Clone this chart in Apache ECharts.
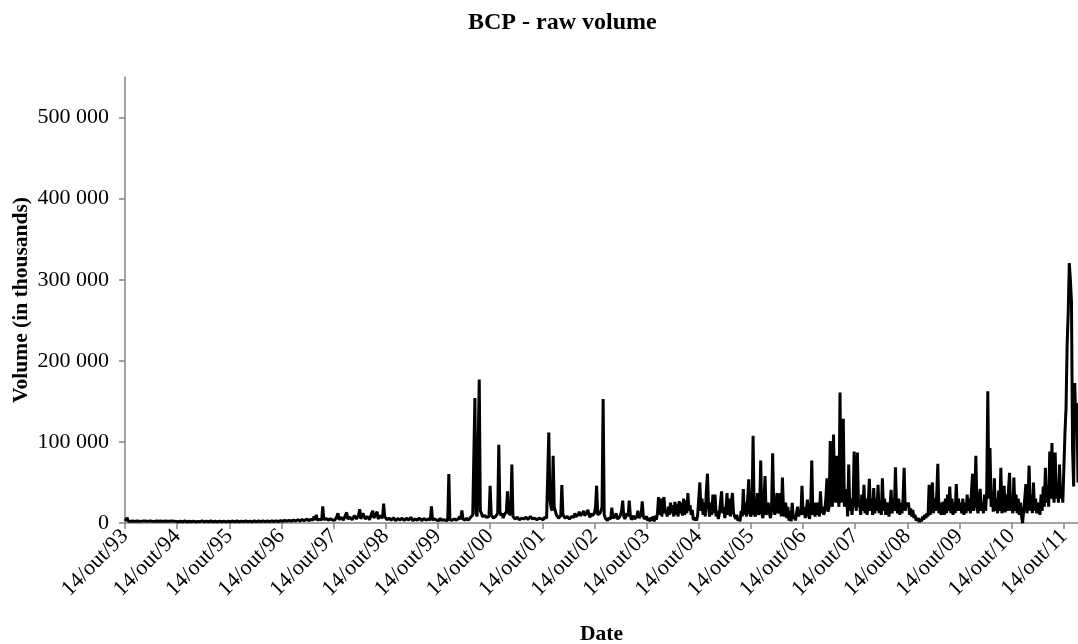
<!DOCTYPE html>
<html>
<head>
<meta charset="utf-8">
<script src="https://cdn.jsdelivr.net/npm/echarts@6/dist/echarts.min.js"></script>
<style>
  html, body { margin: 0; padding: 0; background: #fff; }
  #chart-container { width: 1078px; height: 644px; }
</style>
</head>
<body>
<div id="chart-container"></div>
<script>
// year labels for the ticks (14/out/YY), 48 samples per year
var years = ['93', '94', '95', '96', '97', '98', '99', '00', '01', '02',
             '03', '04', '05', '06', '07', '08', '09', '10', '11'];
var perYear = 48;

// volume in thousands (about weekly, alternating high/low of the band)
var vol93 = [2500,1800,6500,2000,1500,2200,1200,2500,1500,2000,1300,2400,1500,2200,1200,2000,1300,2600,1500,2400,1200,2000,1400,2600,1500,2200,1300,2000,1500,2500,1400,2100,1300,2400,1500,2000,1200,2500,1600,2200,1400,2100,1500,2600,1300,2300,1400,2000];
var vol94 = [2300,1500,1300,2200,2000,1400,1500,2700,2700,1300,1200,2100,2100,1500,1400,2400,2400,1300,1300,2000,2000,1600,1500,2600,3200,1500,1400,2300,2200,1300,1300,2500,2500,1400,1500,2200,2100,1300,1200,2400,2400,1500,1400,2300,2600,1400,1500,2200];
var vol95 = [2600,1600,1500,2400,2200,1500,1400,2500,2500,1500,1600,2300,4200,1700,1800,2500,2400,1600,1500,2300,2200,1500,1400,2500,2600,1600,1500,2500,2300,1600,1700,2600,2800,1700,1600,2500,2400,1700,1800,2700,2900,1800,1700,2600,2600,1800,1900,2800];
var vol96 = [3000,2200,2000,3100,3400,2300,2200,3300,3200,2400,2400,3600,3800,2500,2500,4000,4500,2600,2600,4200,4000,2800,2800,4800,5200,3000,3000,4500,4600,3500,8000,3500,10000,3500,3500,4500,5000,3800,20500,4000,4000,5500,6000,3600,3500,5000,5500,3800];
var vol97 = [6000,3500,3000,8000,12000,4000,4000,7000,9000,3500,3500,10000,13000,5000,5000,7000,8000,4000,4000,9000,11000,5000,6000,10000,17000,5000,4500,12000,14000,5000,5000,8000,9000,4000,4000,12000,15000,6000,6000,11000,14000,5000,5000,9000,11000,6000,23800,8000];
var vol98 = [9000,4000,3000,6000,7000,3500,3500,6500,8000,3000,3000,5500,6000,3500,4000,6000,7500,3000,3000,6000,6500,3500,3500,7000,8000,3000,3000,5000,5500,3500,4000,6000,7000,3000,3000,5500,6000,3500,3500,5000,5000,4000,20500,4000,4000,5000,5500,3500];
var vol99 = [4000,3000,6000,3500,3000,4000,5000,3500,4000,3000,60400,4000,5000,3500,3500,5000,6000,3500,4000,5500,8000,4500,15500,5000,4500,3500,6000,4000,3500,5000,7000,5000,10000,9000,154000,12000,8000,10000,177000,15000,12000,8000,6000,9000,9000,7000,5000,8000];
var vol00 = [46000,10000,8000,6000,5000,8000,7000,12000,96500,15000,9000,12000,6000,10000,12000,14000,39000,12000,14000,10000,72000,8000,6000,5000,5000,7000,7000,4000,4000,6000,6000,5000,5000,7000,8000,4500,4500,8000,9000,5000,5000,6000,7000,4000,4000,6000,6000,5000];
var vol01 = [5000,4000,7000,5000,6000,8000,111700,30000,20000,15000,83000,20000,15000,10000,8000,6000,6000,9000,46800,10000,9000,6000,6000,8000,8000,5000,5000,8000,9000,7000,12000,8000,6000,10000,14000,9000,8000,12000,15000,9000,10000,13000,16400,10000,7000,12000,9000,8000];
var vol02 = [12000,20000,46000,10000,8000,12000,15000,20000,152900,10000,6000,4000,3000,6000,8000,5000,19000,6000,4000,8000,12000,5000,3000,7000,10000,15000,27500,8000,5000,4000,12000,8000,27500,10000,4000,6000,9000,5000,3000,8000,15000,6000,6000,10000,26600,8000,5000,3000];
var vol03 = [8000,3000,6000,2000,7000,3000,8000,2000,9000,4000,12000,32000,10000,30000,8000,25000,32000,12000,15000,8000,20000,10000,25000,12000,22000,8000,26000,10000,24000,8000,27000,12000,25000,9000,30000,10000,28000,12000,37000,15000,22000,10000,16000,4000,2000,6000,3000,10000];
var vol04 = [12000,50000,15000,30000,10000,25000,8000,40000,60800,20000,8000,25000,10000,35000,12000,35000,8000,15000,5000,12000,10000,39000,12000,20000,6000,15000,37000,10000,30000,8000,25000,37000,12000,8000,5000,10000,3000,6000,2000,15000,8000,42000,10000,25000,8000,30000,54000,12000];
var vol05 = [8000,15000,107600,12000,8000,20000,37000,10000,15000,77000,12000,6000,25000,58000,10000,8000,25000,12000,6000,15000,86000,20000,10000,8000,37000,12000,15000,37000,8000,56000,15000,8000,25000,6000,20000,3000,15000,2000,25000,5000,10000,3000,12000,20000,8000,15000,10000,46000];
var vol06 = [10000,20000,6000,15000,28700,10000,5000,20000,77000,10000,25000,8000,25000,10000,25000,8000,39000,12000,20000,10000,15000,31000,55000,14000,20000,101000,30000,20000,109000,40000,25000,83000,35000,20000,161000,25000,45000,128600,20000,30000,42000,8000,72000,15000,30000,10000,25000,88000];
var vol07 = [30000,15000,87000,20000,25000,10000,35000,15000,47000,12000,30000,10000,25000,54600,15000,30000,10000,43000,12000,30000,15000,47000,12000,25000,10000,55000,15000,30000,10000,20000,25000,8000,20000,41000,12000,30000,15000,68600,20000,12000,30000,10000,25000,12000,30000,68000,15000,25000];
var vol08 = [20000,25000,10000,18000,8000,16000,6000,10000,3000,2000,6000,1000,5000,2000,8000,4000,10000,6000,12000,8000,47000,10000,25000,50000,12000,30000,15000,35000,73000,12000,25000,10000,20000,26000,10000,30000,12000,35000,15000,45000,12000,30000,10000,25000,12000,48000,15000,30000];
var vol09 = [15000,25000,12000,30000,10000,25000,12000,35000,15000,30000,12000,40000,60800,15000,30000,83000,20000,12000,30000,42000,15000,25000,12000,35000,15000,40000,162300,30000,92500,20000,35000,14000,55000,15000,30000,12000,40000,15000,68000,12000,30000,46000,13000,35000,15000,40000,62000,15000];
var vol10 = [30000,12000,56000,15000,35000,12000,30000,10000,25000,8000,0,15000,30000,48000,12000,30000,70700,15000,35000,12000,50000,15000,30000,12000,25000,20000,10000,35000,15000,45000,20000,68000,25000,45000,20000,88000,30000,98600,40000,25000,87000,30000,50000,25000,72000,30000,45000,25000];
var vol11 = [25000,111000,141800,220000,260000,320600,300000,273000,90000,45000,172600,120000,148000,50000];

var yTicks = [0, 100000, 200000, 300000, 400000, 500000];

var volume = [].concat(vol93, vol94, vol95, vol96, vol97, vol98, vol99, vol00, vol01,
  vol02, vol03, vol04, vol05, vol06, vol07, vol08, vol09, vol10, vol11);
var samples = volume.map(function (v, i) { return String(i); });

var font = '"Liberation Serif", "Times New Roman", serif';
var axisGrey = '#868686';

var dom = document.getElementById('chart-container');
var myChart = echarts.init(dom, null, { renderer: 'canvas' });

function spaced(v) {
  return String(v).replace(/\B(?=(\d{3})+(?!\d))/g, ' ');
}

var option = {
  animation: false,
  backgroundColor: '#fff',
  title: {
    text: 'BCP - raw volume',
    left: 463,
    top: 6,
    textStyle: { fontFamily: font, fontSize: 24, fontWeight: 'bold', color: '#000' }
  },
  grid: { left: 125, right: 0, top: 77, bottom: 121, containLabel: false, outerBoundsMode: 'none' },
  xAxis: {
    type: 'category',
    data: samples,
    boundaryGap: false,
    name: 'Date',
    nameLocation: 'middle',
    nameGap: 100,
    nameMoveOverlap: false,
    nameTextStyle: { fontFamily: font, fontSize: 21.5, fontWeight: 'bold', color: '#000' },
    axisLine: { lineStyle: { color: axisGrey, width: 1.5 } },
    axisTick: {
      length: 6,
      interval: function (idx) { return idx % perYear === 0; },
      lineStyle: { color: axisGrey, width: 1.5 }
    },
    axisLabel: {
      interval: function (idx) { return idx % perYear === 0; },
      formatter: function (v, idx) {
        return idx % perYear === 0 ? '14/out/' + years[idx / perYear] : '';
      },
      rotate: 45,
      margin: 10,
      fontFamily: font,
      fontSize: 22,
      color: '#000'
    },
    splitLine: { show: false }
  },
  yAxis: {
    type: 'value',
    min: 0,
    max: 550000,
    interval: 100000,
    name: 'Volume (in thousands)',
    nameLocation: 'middle',
    nameGap: 93,
    nameMoveOverlap: false,
    nameTextStyle: { fontFamily: font, fontSize: 21.5, fontWeight: 'bold', color: '#000' },
    axisLine: { show: true, lineStyle: { color: axisGrey, width: 1.5 } },
    axisTick: { show: true, length: 6, customValues: yTicks, lineStyle: { color: axisGrey, width: 1.5 } },
    axisLabel: {
      customValues: yTicks,
      margin: 16,
      fontFamily: font,
      fontSize: 22,
      color: '#000',
      formatter: function (v) { return v > 500000 ? '' : spaced(v); }
    },
    splitLine: { show: false }
  },
  series: [
    {
      type: 'line',
      data: volume,
      showSymbol: false,
      symbol: 'none',
      lineStyle: { color: '#000', width: 3 },
      itemStyle: { color: '#000' }
    }
  ]
};

myChart.setOption(option);
window.addEventListener('resize', myChart.resize);
</script>
</body>
</html>
